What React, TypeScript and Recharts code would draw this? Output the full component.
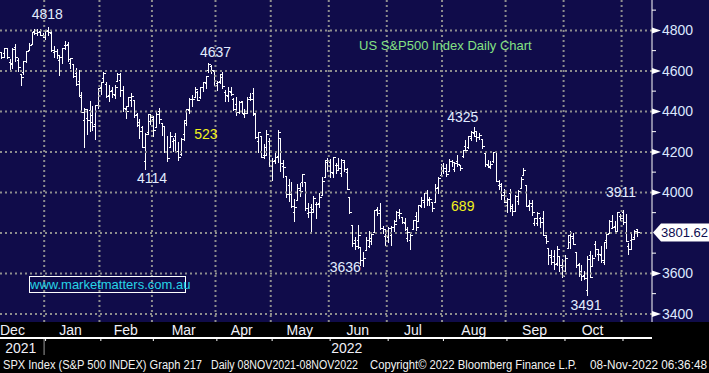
import React from "react"
import { ComposedChart, Bar, XAxis, YAxis, ReferenceLine, ReferenceDot } from "recharts"

// trading days shown on the chart (SPX daily bars)
const dates = [
  "2021-12-09", "2021-12-10", "2021-12-13", "2021-12-14", "2021-12-15", "2021-12-16", "2021-12-17", "2021-12-20",
  "2021-12-21", "2021-12-22", "2021-12-23", "2021-12-27", "2021-12-28", "2021-12-29", "2021-12-30", "2021-12-31",
  "2022-01-03", "2022-01-04", "2022-01-05", "2022-01-06", "2022-01-07", "2022-01-10", "2022-01-11", "2022-01-12",
  "2022-01-13", "2022-01-14", "2022-01-18", "2022-01-19", "2022-01-20", "2022-01-21", "2022-01-24", "2022-01-25",
  "2022-01-26", "2022-01-27", "2022-01-28", "2022-01-31",
  "2022-02-01", "2022-02-02", "2022-02-03", "2022-02-04", "2022-02-07", "2022-02-08", "2022-02-09", "2022-02-10",
  "2022-02-11", "2022-02-14", "2022-02-15", "2022-02-16", "2022-02-17", "2022-02-18", "2022-02-22", "2022-02-23",
  "2022-02-24", "2022-02-25", "2022-02-28",
  "2022-03-01", "2022-03-02", "2022-03-03", "2022-03-04", "2022-03-07", "2022-03-08", "2022-03-09", "2022-03-10",
  "2022-03-11", "2022-03-14", "2022-03-15", "2022-03-16", "2022-03-17", "2022-03-18", "2022-03-21", "2022-03-22",
  "2022-03-23", "2022-03-24", "2022-03-25", "2022-03-28", "2022-03-29", "2022-03-30", "2022-03-31",
  "2022-04-01", "2022-04-04", "2022-04-05", "2022-04-06", "2022-04-07", "2022-04-08", "2022-04-11", "2022-04-12",
  "2022-04-13", "2022-04-14", "2022-04-18", "2022-04-19", "2022-04-20", "2022-04-21", "2022-04-22", "2022-04-25",
  "2022-04-26", "2022-04-27", "2022-04-28", "2022-04-29",
  "2022-05-02", "2022-05-03", "2022-05-04", "2022-05-05", "2022-05-06", "2022-05-09", "2022-05-10", "2022-05-11",
  "2022-05-12", "2022-05-13", "2022-05-16", "2022-05-17", "2022-05-18", "2022-05-19", "2022-05-20", "2022-05-23",
  "2022-05-24", "2022-05-25", "2022-05-26", "2022-05-27", "2022-05-31",
  "2022-06-01", "2022-06-02", "2022-06-03", "2022-06-06", "2022-06-07", "2022-06-08", "2022-06-09", "2022-06-10",
  "2022-06-13", "2022-06-14", "2022-06-15", "2022-06-16", "2022-06-17", "2022-06-21", "2022-06-22", "2022-06-23",
  "2022-06-24", "2022-06-27", "2022-06-28", "2022-06-29", "2022-06-30",
  "2022-07-01", "2022-07-05", "2022-07-06", "2022-07-07", "2022-07-08", "2022-07-11", "2022-07-12", "2022-07-13",
  "2022-07-14", "2022-07-15", "2022-07-18", "2022-07-19", "2022-07-20", "2022-07-21", "2022-07-22", "2022-07-25",
  "2022-07-26", "2022-07-27", "2022-07-28", "2022-07-29",
  "2022-08-01", "2022-08-02", "2022-08-03", "2022-08-04", "2022-08-05", "2022-08-08", "2022-08-09", "2022-08-10",
  "2022-08-11", "2022-08-12", "2022-08-15", "2022-08-16", "2022-08-17", "2022-08-18", "2022-08-19", "2022-08-22",
  "2022-08-23", "2022-08-24", "2022-08-25", "2022-08-26", "2022-08-29", "2022-08-30", "2022-08-31",
  "2022-09-01", "2022-09-02", "2022-09-06", "2022-09-07", "2022-09-08", "2022-09-09", "2022-09-12", "2022-09-13",
  "2022-09-14", "2022-09-15", "2022-09-16", "2022-09-19", "2022-09-20", "2022-09-21", "2022-09-22", "2022-09-23",
  "2022-09-26", "2022-09-27", "2022-09-28", "2022-09-29", "2022-09-30",
  "2022-10-03", "2022-10-04", "2022-10-05", "2022-10-06", "2022-10-07", "2022-10-10", "2022-10-11", "2022-10-12",
  "2022-10-13", "2022-10-14", "2022-10-17", "2022-10-18", "2022-10-19", "2022-10-20", "2022-10-21", "2022-10-24",
  "2022-10-25", "2022-10-26", "2022-10-27", "2022-10-28", "2022-10-31",
  "2022-11-01", "2022-11-02", "2022-11-03", "2022-11-04", "2022-11-07", "2022-11-08",
]
// empty slots Bloomberg leaves right of the last bar
const padDates = ["2022-11-09", "2022-11-10", "2022-11-11", "2022-11-14", "2022-11-15"]

const opens = [
  4691, 4687, 4711, 4642, 4637, 4720, 4653, 4587, 4595, 4651, 4703, 4733, 4796, 4788, 4795, 4776,
  4778, 4804, 4787, 4693, 4697, 4655, 4670, 4729, 4733, 4637, 4633, 4588, 4548, 4471, 4356, 4367, 4408, 4381, 4337, 4432,
  4519, 4567, 4536, 4483, 4505, 4480, 4548, 4554, 4507, 4413, 4429, 4455, 4456, 4385, 4333, 4324, 4155, 4299, 4354,
  4364, 4322, 4401, 4342, 4327, 4202, 4223, 4253, 4279, 4202, 4189, 4289, 4345, 4407, 4462, 4469, 4494, 4470, 4522, 4542, 4603, 4624, 4599,
  4540, 4548, 4572, 4494, 4474, 4494, 4463, 4438, 4397, 4449, 4385, 4390, 4473, 4490, 4385, 4256, 4278, 4187, 4223, 4253,
  4130, 4159, 4181, 4270, 4128, 4081, 4036, 3990, 3903, 3963, 4013, 4052, 4052, 3900, 3927, 3920, 3942, 3946, 3985, 4077, 4151,
  4149, 4096, 4137, 4135, 4096, 4148, 4102, 3975, 3838, 3763, 3764, 3729, 3665, 3716, 3734, 3775, 3805, 3920, 3913, 3826, 3786,
  3781, 3792, 3831, 3859, 3889, 3880, 3851, 3773, 3764, 3819, 3883, 3860, 3935, 3955, 3999, 3966, 3953, 3951, 4026, 4087,
  4113, 4105, 4107, 4155, 4115, 4156, 4134, 4181, 4227, 4225, 4269, 4291, 4280, 4273, 4266, 4195, 4133, 4127, 4153, 4198, 4035, 4041, 4000,
  3937, 3995, 3931, 3910, 3959, 4022, 4084, 4037, 3940, 3932, 3847, 3849, 3875, 3872, 3782, 3727, 3682, 3686, 3651, 3688, 3633,
  3610, 3727, 3753, 3773, 3706, 3645, 3595, 3591, 3520, 3690, 3638, 3746, 3696, 3689, 3657, 3764, 3799, 3825, 3834, 3809, 3882,
  3901, 3853, 3733, 3766, 3780, 3818,
]
const highs = [
  4695, 4713, 4711, 4660, 4712, 4731, 4666, 4587, 4651, 4698, 4740, 4791, 4807, 4805, 4808, 4787,
  4797, 4819, 4798, 4725, 4708, 4673, 4714, 4749, 4744, 4666, 4633, 4612, 4602, 4494, 4418, 4411, 4453, 4428, 4432, 4516,
  4547, 4595, 4543, 4529, 4522, 4531, 4590, 4589, 4527, 4426, 4472, 4490, 4456, 4394, 4362, 4329, 4294, 4385, 4388,
  4375, 4401, 4416, 4343, 4327, 4277, 4300, 4269, 4292, 4247, 4271, 4358, 4412, 4465, 4481, 4522, 4501, 4521, 4546, 4575, 4637, 4627, 4604,
  4549, 4583, 4593, 4504, 4521, 4520, 4464, 4472, 4453, 4453, 4411, 4471, 4489, 4513, 4385, 4299, 4278, 4240, 4309, 4270,
  4170, 4200, 4308, 4270, 4158, 4081, 4068, 4050, 3965, 4039, 4047, 4089, 4052, 3946, 3944, 3981, 3955, 3999, 4075, 4158, 4169,
  4167, 4177, 4143, 4169, 4164, 4160, 4119, 3975, 3838, 3778, 3837, 3729, 3707, 3779, 3809, 3803, 3914, 3928, 3946, 3836, 3819,
  3829, 3832, 3864, 3906, 3919, 3880, 3874, 3829, 3796, 3864, 3903, 3940, 3975, 3999, 4013, 3976, 3954, 4039, 4078, 4140,
  4144, 4140, 4167, 4161, 4151, 4186, 4137, 4211, 4257, 4280, 4301, 4325, 4302, 4293, 4266, 4195, 4160, 4156, 4200, 4204, 4062, 4044, 4015,
  3970, 4018, 3942, 3987, 4010, 4077, 4119, 4037, 3961, 3960, 3876, 3901, 3877, 3907, 3791, 3727, 3716, 3717, 3737, 3688, 3672,
  3689, 3791, 3807, 3798, 3706, 3652, 3641, 3611, 3685, 3712, 3689, 3762, 3719, 3737, 3757, 3799, 3862, 3887, 3859, 3905, 3893,
  3911, 3894, 3750, 3796, 3813, 3819,
]
const lows = [
  4665, 4670, 4666, 4607, 4612, 4647, 4598, 4531, 4584, 4645, 4703, 4733, 4781, 4778, 4776, 4766,
  4758, 4775, 4699, 4671, 4663, 4582, 4638, 4708, 4651, 4614, 4568, 4530, 4475, 4395, 4223, 4288, 4305, 4309, 4264, 4415,
  4484, 4544, 4471, 4451, 4471, 4466, 4548, 4477, 4402, 4365, 4429, 4429, 4373, 4327, 4268, 4223, 4115, 4287, 4337,
  4279, 4322, 4345, 4284, 4199, 4157, 4223, 4205, 4203, 4161, 4187, 4258, 4335, 4390, 4425, 4469, 4456, 4465, 4501, 4517, 4594, 4589, 4530,
  4507, 4540, 4514, 4451, 4450, 4482, 4408, 4382, 4393, 4392, 4371, 4390, 4455, 4384, 4268, 4201, 4175, 4168, 4188, 4128,
  4063, 4147, 4148, 4107, 4077, 3976, 3959, 3928, 3859, 3963, 3984, 4034, 3912, 3877, 3810, 3910, 3875, 3926, 3985, 4077, 4104,
  4074, 4074, 4098, 4110, 4080, 4108, 4017, 3900, 3735, 3722, 3723, 3639, 3637, 3716, 3728, 3743, 3805, 3889, 3820, 3800, 3738,
  3753, 3742, 3811, 3859, 3873, 3847, 3812, 3759, 3722, 3817, 3813, 3860, 3929, 3927, 3938, 3937, 3910, 3951, 3999, 4079,
  4097, 4080, 4107, 4129, 4107, 4128, 4112, 4177, 4201, 4219, 4257, 4277, 4253, 4262, 4218, 4129, 4124, 4120, 4148, 4058, 4017, 3965, 3954,
  3903, 3907, 3886, 3906, 3945, 4022, 4084, 3932, 3914, 3889, 3838, 3839, 3827, 3789, 3750, 3648, 3644, 3623, 3641, 3610, 3584,
  3610, 3727, 3723, 3744, 3633, 3588, 3569, 3570, 3492, 3582, 3638, 3686, 3667, 3657, 3647, 3724, 3799, 3825, 3803, 3809, 3863,
  3843, 3759, 3698, 3721, 3771, 3787,
]
const closes = [
  4667, 4712, 4669, 4634, 4710, 4669, 4621, 4568, 4649, 4697, 4726, 4791, 4786, 4793, 4779, 4766,
  4797, 4794, 4701, 4696, 4677, 4670, 4713, 4726, 4659, 4663, 4577, 4533, 4483, 4398, 4410, 4356, 4350, 4327, 4432, 4516,
  4547, 4589, 4477, 4501, 4484, 4522, 4587, 4504, 4419, 4402, 4471, 4475, 4380, 4349, 4305, 4226, 4289, 4385, 4374,
  4306, 4387, 4363, 4329, 4201, 4171, 4278, 4260, 4204, 4173, 4262, 4358, 4412, 4463, 4461, 4512, 4456, 4520, 4543, 4576, 4632, 4602, 4530,
  4546, 4583, 4525, 4481, 4500, 4488, 4413, 4397, 4447, 4393, 4392, 4462, 4459, 4394, 4272, 4296, 4175, 4184, 4288, 4132,
  4155, 4175, 4300, 4147, 4123, 3991, 4001, 3935, 3930, 4024, 4008, 4089, 3924, 3901, 3901, 3974, 3941, 3979, 4058, 4158, 4132,
  4101, 4177, 4109, 4121, 4161, 4116, 4018, 3901, 3750, 3735, 3790, 3667, 3675, 3765, 3760, 3796, 3912, 3900, 3822, 3819, 3785,
  3825, 3831, 3845, 3903, 3899, 3854, 3819, 3802, 3790, 3863, 3831, 3937, 3960, 3999, 3962, 3967, 3921, 4024, 4072, 4130,
  4119, 4091, 4155, 4152, 4145, 4140, 4122, 4210, 4207, 4280, 4297, 4305, 4274, 4284, 4228, 4138, 4129, 4141, 4199, 4058, 4031, 3986, 3955,
  3967, 3924, 3908, 3980, 4006, 4067, 4110, 3933, 3946, 3901, 3873, 3900, 3856, 3790, 3758, 3693, 3655, 3647, 3719, 3640, 3586,
  3678, 3791, 3783, 3745, 3640, 3612, 3589, 3577, 3670, 3583, 3678, 3720, 3695, 3666, 3753, 3797, 3859, 3831, 3807, 3901, 3872,
  3856, 3760, 3720, 3771, 3807, 3802,
]
const lastPrice = 3801.62

// month boundaries (gridlines) and where each month name sits
const monthStarts = [
  "2022-01-03", "2022-02-01", "2022-03-01", "2022-04-01", "2022-05-02", "2022-06-01",
  "2022-07-01", "2022-08-01", "2022-09-01", "2022-10-03", "2022-11-01",
]
const monthLabelDates = [
  "2021-12-15", "2022-01-14", "2022-02-14", "2022-03-16", "2022-04-14", "2022-05-16",
  "2022-06-15", "2022-07-15", "2022-08-16", "2022-09-16", "2022-10-17",
]
const monthLabels = ["Dec", "Jan", "Feb", "Mar", "Apr", "May", "Jun", "Jul", "Aug", "Sep", "Oct"]
const yearLabelDates = ["2021-12-20", "2022-01-03", "2022-06-09"]
const yearLabels = ["2021", "|", "2022"]

const yMajor = [3400, 3600, 3800, 4000, 4200, 4400, 4600, 4800]
const yMinor = [3500, 3700, 3900, 4100, 4300, 4500, 4700, 4900]

// marked highs / lows and the two swing sizes
const noteDates = ["2022-01-04", "2022-03-29", "2022-02-24", "2022-08-16", "2022-06-17", "2022-10-13", "2022-11-01", "2022-03-28", "2022-08-10"]
const noteValues = [4819, 4637, 4115, 4325, 3637, 3492, 3911, (4637 + 4114) / 2, (4325 + 3636) / 2]
const noteTexts = ["4818", "4637", "4114", "4325", "3636", "3491", "3911", "523", "689"]
const noteOffsets = [[-1, -12], [7, -11], [7, 9], [-11, -9], [-18, 1], [-1, 10], [-2, -18], [0, 18], [0, 10]]

const NAVY = "#100c4a"
const GRID = "#8e8e8e"
const FONT = "'Liberation Sans', Arial, sans-serif"

const data: any[] = dates
  .map((d, i) => ({ d, o: opens[i], h: highs[i], l: lows[i], c: closes[i] }))
  .concat(padDates.map((d) => ({ d })))

const OhlcBar = (p: any) => {
  const { x, y, width, height, payload } = p
  if (!payload || payload.h == null) return null
  const top = Math.min(y, y + height)
  const bot = Math.max(y, y + height)
  const span = payload.h - payload.l || 1
  const py = (v: number) => Math.round(top + ((payload.h - v) / span) * (bot - top)) + 0.5
  const cx = Math.round(x + width / 2) + 0.5
  return (
    <g stroke="#ffffff" strokeWidth={1} shapeRendering="crispEdges">
      <line x1={cx} x2={cx} y1={Math.round(top)} y2={Math.round(bot) + 1} />
      <line x1={cx - 2} x2={cx} y1={py(payload.o)} y2={py(payload.o)} />
      <line x1={cx} x2={cx + 2.5} y1={py(payload.c)} y2={py(payload.c)} />
    </g>
  )
}

const MonthTick = (p: any) => {
  const i = monthLabelDates.indexOf(p.payload.value)
  if (i < 0) return null
  return (
    <text x={p.x} y={p.y + 13} textAnchor="middle" fill="#f0f0f8" fontSize={14} fontFamily={FONT}>
      {monthLabels[i]}
    </text>
  )
}

const YearTick = (p: any) => {
  const i = yearLabelDates.indexOf(p.payload.value)
  if (i < 0) return null
  if (yearLabels[i] === "|") {
    return <line x1={p.x - 1.5} x2={p.x - 1.5} y1={p.y - 2} y2={p.y + 14} stroke="#9a9a9a" strokeWidth={1} />
  }
  return (
    <text x={p.x} y={p.y + 12} textAnchor="middle" fill="#f0f0f8" fontSize={14} fontFamily={FONT}>
      {yearLabels[i]}
    </text>
  )
}

const PriceTick = (p: any) => {
  const v = p.payload.value
  const { x, y } = p
  if (v === lastPrice) {
    return (
      <g>
        <polygon
          points={`${x + 1},${y} ${x + 9},${y - 9} ${x + 57},${y - 9} ${x + 57},${y + 9} ${x + 9},${y + 9}`}
          fill="#ffffff"
        />
        <text x={x + 9} y={y} dy="0.35em" fill="#0c0c50" fontSize={13} fontFamily={FONT}>
          {v.toFixed(2)}
        </text>
      </g>
    )
  }
  if (yMajor.includes(v)) {
    // the last-price box covers the label closest to it
    if (Math.abs(v - lastPrice) < 40) return null
    return (
      <g>
        <polygon points={`${x},${y - 3} ${x + 9},${y} ${x},${y + 3}`} fill="#ffffff" />
        <text x={x + 10} y={y} dy="0.35em" fill="#dce8ff" fontSize={14} fontFamily={FONT}>
          {v}
        </text>
      </g>
    )
  }
  return <line x1={x} x2={x + 4} y1={y} y2={y} stroke="#ffffff" strokeWidth={1} />
}

const noteShape = (i: number) => (p: any) => {
  const color = noteTexts[i].length === 3 ? "#f2f21c" : "#e2ecff"
  return (
    <text
      x={p.cx + noteOffsets[i][0]}
      y={p.cy + noteOffsets[i][1]}
      dy="0.35em"
      textAnchor="middle"
      fill={color}
      fontSize={14}
      fontFamily={FONT}
    >
      {noteTexts[i]}
    </text>
  )
}

export default function App() {
  return (
    <div style={{ position: "absolute", left: 0, top: 0, width: 709, height: 373, background: "#000", overflow: "hidden" }}>
      <div style={{ position: "absolute", left: 0, top: 0, width: 709, height: 322, background: NAVY }} />
      <div style={{ position: "absolute", left: 0, top: 0 }}>
        <ComposedChart width={709} height={373} data={data} margin={{ top: 0, right: 0, bottom: 0, left: 0 }}>
          <XAxis
            xAxisId="m"
            dataKey="d"
            ticks={monthStarts}
            interval={0}
            tickFormatter={() => ""}
            tickSize={3}
            tickLine={{ stroke: "#ffffff" }}
            axisLine={{ stroke: "#ffffff", strokeWidth: 2 }}
            height={3}
          />
          <XAxis
            xAxisId="lbl"
            dataKey="d"
            ticks={monthLabelDates}
            interval={0}
            axisLine={false}
            tickLine={false}
            tickSize={0}
            tickMargin={0}
            tick={<MonthTick />}
            height={16}
          />
          <XAxis
            xAxisId="yr"
            dataKey="d"
            ticks={yearLabelDates}
            interval={0}
            axisLine={false}
            tickLine={false}
            tickSize={0}
            tickMargin={0}
            tick={<YearTick />}
            height={32}
          />
          <YAxis
            orientation="right"
            type="number"
            domain={[3360, 4950]}
            allowDataOverflow
            ticks={[...yMajor, ...yMinor, lastPrice]}
            interval={0}
            width={57}
            tickLine={false}
            tickSize={0}
            tickMargin={0}
            axisLine={{ stroke: "#ffffff" }}
            tick={<PriceTick />}
          />
          {yMajor.map((v) => (
            <ReferenceLine key={`h${v}`} xAxisId="m" y={v} stroke={GRID} strokeWidth={2} strokeDasharray="2 3" />
          ))}
          {monthStarts.map((d) => (
            <ReferenceLine key={`v${d}`} xAxisId="m" x={d} position="start" stroke={GRID} strokeWidth={2} strokeDasharray="2 3" />
          ))}
          <Bar xAxisId="m" dataKey={(r: any) => (r.h == null ? null : [r.l, r.h])} shape={OhlcBar} isAnimationActive={false} />
          {noteTexts.map((t, i) => (
            <ReferenceDot key={`n${i}`} xAxisId="m" x={noteDates[i]} y={noteValues[i]} r={0} shape={noteShape(i)} />
          ))}
        </ComposedChart>
      </div>
      <div style={{ position: "absolute", left: 359, top: 38, color: "#84e184", fontSize: 13, fontFamily: FONT, whiteSpace: "nowrap" }}>
        US S&amp;P500 Index Daily Chart
      </div>
      <div
        style={{
          position: "absolute", left: 29, top: 276, width: 155, height: 15, border: "1px solid #ffffff",
          color: "#26d4e6", fontSize: 13, lineHeight: "15px", textAlign: "center", fontFamily: FONT, whiteSpace: "nowrap",
        }}
      >
        www.marketmatters.com.au
      </div>
      <svg style={{ position: "absolute", left: 0, top: 355 }} width={709} height={18}>
        <g fill="#f2f2f2" fontSize={12} fontFamily={FONT}>
          <text x={3} y={14} textLength={199} lengthAdjust="spacingAndGlyphs">SPX Index (S&amp;P 500 INDEX) Graph 217</text>
          <text x={211} y={14} textLength={147} lengthAdjust="spacingAndGlyphs">Daily 08NOV2021-08NOV2022</text>
          <text x={370} y={14} textLength={207} lengthAdjust="spacingAndGlyphs">Copyright© 2022 Bloomberg Finance L.P.</text>
          <text x={590} y={14} textLength={117} lengthAdjust="spacingAndGlyphs">08-Nov-2022 06:36:48</text>
        </g>
      </svg>
    </div>
  )
}
